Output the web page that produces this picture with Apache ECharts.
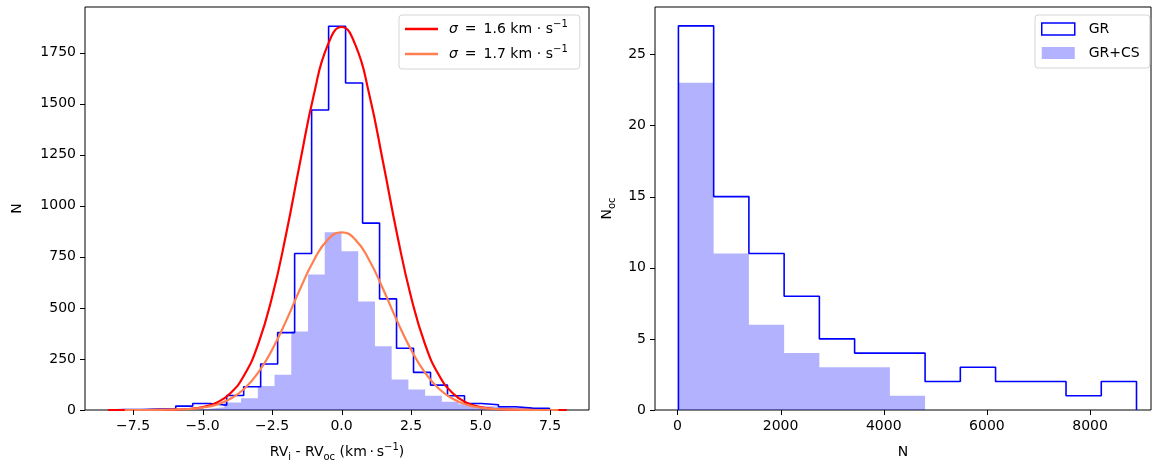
<!DOCTYPE html>
<html>
<head>
<meta charset="utf-8">
<script src="https://cdn.jsdelivr.net/npm/echarts@6/dist/echarts.min.js"></script>
<style>
  html, body { margin: 0; padding: 0; background: #fff; }
  #main { width: 1154px; height: 462px; }
</style>
</head>
<body>
<div id="main"></div>
<script>
// left panel: RV_i - RV_oc histograms (km/s)
const rvGrStart = -8.41, rvGrWidth = 0.611;
const rvGrCounts = [2, 2, 5, 6, 19, 32, 24, 71, 114, 225, 379, 766, 1469, 1879, 1601, 915, 544, 302, 184, 122, 70, 32, 26, 16, 9, 8];
const rvCsStart = -7.83, rvCsWidth = 0.602;
const rvCsCounts = [1, 1, 2, 3, 5, 14, 37, 57, 118, 173, 384, 663, 870, 777, 531, 312, 149, 100, 70, 41, 28, 18, 14, 10, 8, 2];

// gaussian curves
const sig16X = [-8.4, -8, -7.5, -7, -6.5, -6, -5.5, -5, -4.5, -4, -3.5, -3, -2.5, -2, -1.5, -1, -0.5, 0, 0.5, 1, 1.5, 2, 2.5, 3, 3.5, 4, 4.5, 5, 5.5, 6, 6.5, 7, 7.5, 8, 8.1];
const sig16Y = [0, 0, 0, 0, 1, 2, 5, 14, 36, 82, 171, 323, 553, 858, 1208, 1542, 1786, 1875, 1786, 1542, 1208, 858, 553, 323, 171, 82, 36, 14, 5, 2, 1, 0, 0, 0, 0];
const sig17X = [-7.8, -7.5, -7, -6.5, -6, -5.5, -5, -4.5, -4, -3.5, -3, -2.5, -2, -1.5, -1, -0.5, 0, 0.5, 1, 1.5, 2, 2.5, 3, 3.5, 4, 4.5, 5, 5.5, 6, 6.5, 7, 7.5, 7.8];
const sig17Y = [0, 0, 0, 1, 2, 5, 12, 26, 55, 104, 183, 295, 435, 590, 732, 833, 870, 833, 732, 590, 435, 295, 183, 104, 55, 26, 12, 5, 2, 1, 0, 0, 0];

// right panel: number of members per cluster
const nStart = 20, nWidth = 683;
const nGrCounts = [27, 15, 11, 8, 5, 4, 4, 2, 3, 2, 2, 1, 2];
const nCsCounts = [23, 11, 6, 4, 3, 3, 1];

const rvTicks = [-7.5, -5, -2.5, 0, 2.5, 5, 7.5];
const countTicks = [0, 250, 500, 750, 1000, 1250, 1500, 1750];
const nTicks = [0, 2000, 4000, 6000, 8000];
const nocTicks = [0, 5, 10, 15, 20, 25];

const rvRange = [-9.23, 8.9], countRange = [0, 1973];
const nRange = [-434, 9180], nocRange = [0, 28.33];

function stepData(start, width, counts) {
    const pts = [[start, 0]];
    counts.forEach((c, i) => pts.push([start + i * width, c]));
    const end = start + counts.length * width;
    pts.push([end, counts[counts.length - 1]]);
    pts.push([end, 0]);
    return pts;
}
function zip(xs, ys) {
    return xs.map((x, i) => [x, ys[i]]);
}

const FONT = 'DejaVu Sans';
const rich = {
    sub: { fontSize: 10, fontFamily: FONT, verticalAlign: 'bottom', lineHeight: 11 },
    sup: { fontSize: 10, fontFamily: FONT, verticalAlign: 'top', lineHeight: 11 },
    it: { fontSize: 14, fontFamily: FONT, fontStyle: 'italic', lineHeight: 20 }
};
const nameStyle = { fontSize: 14, fontFamily: FONT, color: '#000', lineHeight: 20, rich: rich };

function axisCommon(ticks, fmt) {
    return {
        type: 'value',
        axisLine: { show: false, onZero: false },
        splitLine: { show: false },
        axisTick: { show: false },
        axisLabel: { customValues: ticks, formatter: fmt, margin: 9, color: '#000', fontSize: 14, fontFamily: FONT }
    };
}
const gridBox = { show: true, borderColor: '#000', borderWidth: 1, backgroundColor: 'transparent', outerBoundsMode: 'none', containLabel: false };

// outward tick marks placed through the axes' own coordinate mapping
function tickSeries(grid, ticks, dir, otherMin) {
    return {
        type: 'custom', xAxisIndex: grid, yAxisIndex: grid, silent: true, clip: false, z: 5,
        data: ticks.map(t => [t]),
        renderItem: function (params, api) {
            const v = api.value(0);
            const p = dir === 'x' ? api.coord([v, otherMin]) : api.coord([otherMin, v]);
            const c = Math.round(dir === 'x' ? p[0] : p[1]) + 0.5;
            const shape = dir === 'x'
                ? { x1: c, y1: p[1], x2: c, y2: p[1] + 5 }
                : { x1: p[0], y1: c, x2: p[0] - 5, y2: c };
            return { type: 'line', shape: shape, style: { stroke: '#000', lineWidth: 1 } };
        }
    };
}

const chart = echarts.init(document.getElementById('main'));
chart.setOption({
    animation: false,
    textStyle: { fontFamily: FONT, color: '#000' },
    grid: [
        Object.assign({ left: 85, top: 7, width: 504, height: 403 }, gridBox),
        Object.assign({ left: 655, top: 7, width: 496, height: 403 }, gridBox)
    ],
    xAxis: [
        Object.assign(axisCommon(rvTicks, v => (v < 0 ? '\u2212' : '') + Math.abs(v).toFixed(1)), {
            gridIndex: 0, min: rvRange[0], max: rvRange[1], position: 'bottom',
            name: 'RV{sub|i} - RV{sub|oc} (km\u2009\u00b7\u2009s{sup|\u22121})',
            nameLocation: 'middle', nameGap: 32, nameTextStyle: nameStyle
        }),
        Object.assign(axisCommon(nTicks, v => String(v)), {
            gridIndex: 1, min: nRange[0], max: nRange[1], position: 'bottom',
            name: 'N', nameLocation: 'middle', nameGap: 32, nameTextStyle: nameStyle
        })
    ],
    yAxis: [
        Object.assign(axisCommon(countTicks, v => String(v)), {
            gridIndex: 0, min: countRange[0], max: countRange[1], position: 'left',
            name: 'N', nameLocation: 'middle', nameGap: 58, nameTextStyle: nameStyle
        }),
        Object.assign(axisCommon(nocTicks, v => String(v)), {
            gridIndex: 1, min: nocRange[0], max: nocRange[1], position: 'left',
            name: 'N{sub|oc}', nameLocation: 'middle', nameGap: 38, nameTextStyle: nameStyle
        })
    ],
    legend: [
        {
            data: [{ name: 's16', icon: 'rect' }, { name: 's17', icon: 'rect' }],
            orient: 'vertical', left: 399, top: 15,
            itemWidth: 33, itemHeight: 2.5, itemGap: 5,
            padding: [4, 12, 5, 6],
            backgroundColor: '#fff', borderColor: '#d5d5d5', borderWidth: 1, borderRadius: 3,
            selectedMode: false,
            formatter: n => n === 's16'
                ? '{it|\u03c3}\u2002=\u20021.6 km\u2004\u00b7\u2004s{sup|\u22121}'
                : '{it|\u03c3}\u2002=\u20021.7 km\u2004\u00b7\u2004s{sup|\u22121}',
            textStyle: { fontSize: 14, fontFamily: FONT, color: '#000', lineHeight: 20, padding: [0, 0, 0, 6], rich: rich }
        },
        {
            data: [
                { name: 'GR', icon: 'rect', itemStyle: { color: '#fff', borderColor: '#0000ff', borderWidth: 1.5 } },
                { name: 'GR+CS', icon: 'rect', itemStyle: { color: 'rgba(0,0,255,0.3)', borderWidth: 0 } }
            ],
            orient: 'vertical', left: 1035, top: 15,
            itemWidth: 33, itemHeight: 12, itemGap: 8,
            padding: [6, 10, 7, 6],
            backgroundColor: '#fff', borderColor: '#d5d5d5', borderWidth: 1, borderRadius: 3,
            selectedMode: false,
            textStyle: { fontSize: 14, fontFamily: FONT, color: '#000', lineHeight: 16, padding: [0, 0, 0, 9] }
        }
    ],
    series: [
        {
            name: 'rvCs', type: 'line', xAxisIndex: 0, yAxisIndex: 0, step: 'end',
            data: stepData(rvCsStart, rvCsWidth, rvCsCounts), symbol: 'none',
            lineStyle: { width: 0 }, areaStyle: { color: 'rgba(0,0,255,0.3)', opacity: 1 }, silent: true
        },
        {
            name: 'rvGr', type: 'line', xAxisIndex: 0, yAxisIndex: 0, step: 'end',
            data: stepData(rvGrStart, rvGrWidth, rvGrCounts), symbol: 'none',
            lineStyle: { color: '#0000ff', width: 1.6 }, silent: true
        },
        {
            name: 's16', type: 'line', xAxisIndex: 0, yAxisIndex: 0, smooth: true,
            data: zip(sig16X, sig16Y), symbol: 'none', color: '#ff0000',
            lineStyle: { color: '#ff0000', width: 2.2 }
        },
        {
            name: 's17', type: 'line', xAxisIndex: 0, yAxisIndex: 0, smooth: true,
            data: zip(sig17X, sig17Y), symbol: 'none', color: '#ff7f50',
            lineStyle: { color: '#ff7f50', width: 2.2 }
        },
        {
            name: 'nCs', type: 'line', xAxisIndex: 1, yAxisIndex: 1, step: 'end',
            data: stepData(nStart, nWidth, nCsCounts), symbol: 'none',
            lineStyle: { width: 0 }, areaStyle: { color: 'rgba(0,0,255,0.3)', opacity: 1 }, silent: true
        },
        {
            name: 'nGr', type: 'line', xAxisIndex: 1, yAxisIndex: 1, step: 'end',
            data: stepData(nStart, nWidth, nGrCounts), symbol: 'none',
            lineStyle: { color: '#0000ff', width: 1.6 }, silent: true
        },
        tickSeries(0, rvTicks, 'x', countRange[0]),
        tickSeries(0, countTicks, 'y', rvRange[0]),
        tickSeries(1, nTicks, 'x', nocRange[0]),
        tickSeries(1, nocTicks, 'y', nRange[0]),
        // legend entries for the right panel
        { name: 'GR', type: 'bar', xAxisIndex: 1, yAxisIndex: 1, data: [], itemStyle: { color: '#fff', borderColor: '#0000ff' } },
        { name: 'GR+CS', type: 'bar', xAxisIndex: 1, yAxisIndex: 1, data: [], itemStyle: { color: 'rgba(0,0,255,0.3)' } }
    ]
});
</script>
</body>
</html>
